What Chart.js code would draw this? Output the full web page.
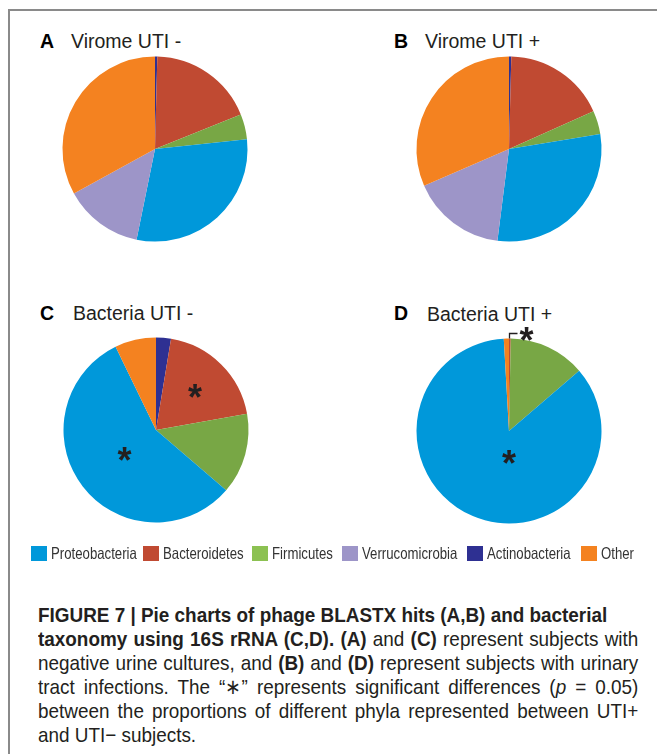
<!DOCTYPE html>
<html>
<head>
<meta charset="utf-8">
<script src="https://cdn.jsdelivr.net/npm/chart.js@4.4.0/dist/chart.umd.min.js"></script>
<style>
  body { margin: 0; background: #fff; width: 657px; height: 754px; overflow: hidden; position: relative;
         font-family: "Liberation Sans", Arial, sans-serif; color: #231f20; }
  #frame { position: absolute; left: 8px; top: 9px; width: 700px; height: 800px;
           border-left: 2px solid #8a8a8a; border-top: 2px solid #8a8a8a; }
  .pie { position: absolute; width: 240px; height: 240px; }
  .lbl { position: absolute; font-size: 19.5px; line-height: 19.5px; white-space: nowrap; }
  .lbl.key { font-weight: bold; color: #000; }
  .sw { position: absolute; top: 546px; width: 16px; height: 15px; }
  .lt { position: absolute; top: 545px; font-size: 16.5px; line-height: 16px; white-space: nowrap;
        transform: scaleX(0.8); transform-origin: 0 0; color: #333; }
  #caption { position: absolute; left: 38px; top: 603px; font-size: 21px; line-height: 24px; }
  #caption div { white-space: nowrap; width: 667px; transform: scaleX(0.9); transform-origin: 0 0; }
  #caption .j { text-align: justify; text-align-last: justify; }
</style>
</head>
<body>
<div id="frame"></div>

<div class="lbl key" style="left:40px; top:31.5px">A</div>
<div class="lbl" style="left:71px; top:31.5px">Virome UTI -</div>
<div class="lbl key" style="left:394px; top:31.5px">B</div>
<div class="lbl" style="left:425px; top:31.5px">Virome UTI +</div>
<div class="lbl key" style="left:40px; top:304px">C</div>
<div class="lbl" style="left:73px; top:304px">Bacteria UTI -</div>
<div class="lbl key" style="left:394px; top:304px">D</div>
<div class="lbl" style="left:427px; top:305px">Bacteria UTI +</div>

<canvas id="pieA" class="pie" width="240" height="240" style="left:35px; top:29px"></canvas>
<canvas id="pieB" class="pie" width="240" height="240" style="left:389px; top:29px"></canvas>
<canvas id="pieC" class="pie" width="240" height="240" style="left:36px; top:310px"></canvas>
<canvas id="pieD" class="pie" width="240" height="240" style="left:389px; top:311px"></canvas>

<div id="caption">
  <div><b>FIGURE 7 | Pie charts of phage BLASTX hits (A,B) and bacterial</b></div>
  <div class="j"><b>taxonomy using 16S rRNA (C,D). (A)</b> and <b>(C)</b> represent subjects with</div>
  <div class="j">negative urine cultures, and <b>(B)</b> and <b>(D)</b> represent subjects with urinary</div>
  <div class="j">tract infections. The “∗” represents significant differences (<i>p</i> = 0.05)</div>
  <div class="j">between the proportions of different phyla represented between UTI+</div>
  <div>and UTI− subjects.</div>
</div>

<script>
// slices run clockwise from 12 o'clock in this order
var phyla = ['Actinobacteria', 'Bacteroidetes', 'Firmicutes', 'Proteobacteria', 'Verrucomicrobia', 'Other'];
var legendOrder = ['Proteobacteria', 'Bacteroidetes', 'Firmicutes', 'Verrucomicrobia', 'Actinobacteria', 'Other'];

// percent of hits per phylum
var viromeNeg = [0.4, 18.5, 4.4, 29.9, 13.8, 33.0];
var viromePos = [0.4, 17.9, 4.1, 29.6, 16.5, 31.5];
var bacteriaNeg = [2.6, 19.6, 14.1, 56.5, 0, 7.2];
var bacteriaPos = [0, 0.3, 13.4, 85.4, 0, 0.9];

var colors = {
    Proteobacteria: '#0098da',
    Bacteroidetes: '#c04a32',
    Firmicutes: '#78a745',
    Verrucomicrobia: '#9d95c8',
    Actinobacteria: '#2e3092',
    Other: '#f48220'
};

// asterisks for significant differences
var starPlugin = {
    id: 'stars',
    afterDatasetsDraw: function (chart, args, opts) {
        var marks = opts.marks || [];
        var ctx = chart.ctx;
        var arcs = chart.getDatasetMeta(0).data;
        ctx.save();
        ctx.fillStyle = '#231f20';
        ctx.strokeStyle = '#231f20';
        ctx.font = 'bold 36px "Liberation Sans", Arial, sans-serif';
        ctx.textAlign = 'center';
        ctx.textBaseline = 'alphabetic';
        var tm = ctx.measureText('*');
        var shift = (tm.actualBoundingBoxAscent - tm.actualBoundingBoxDescent) / 2;
        marks.forEach(function (m) {
            var arc = arcs[chart.data.labels.indexOf(m.label)];
            var p = arc.getProps(['x', 'y', 'startAngle', 'endAngle', 'outerRadius']);
            var sx, sy;
            if (m.bracket) {
                var bx = p.x + 0.5, by = p.y - p.outerRadius;
                ctx.lineWidth = 1.3;
                ctx.beginPath();
                ctx.moveTo(bx, by);
                ctx.lineTo(bx, by - 5);
                ctx.lineTo(bx + 8, by - 5);
                ctx.stroke();
                sx = bx + 17;
                sy = by - 5;
            } else {
                var a = m.angle != null ? (m.angle - 90) * Math.PI / 180 : (p.startAngle + p.endAngle) / 2;
                sx = p.x + Math.cos(a) * p.outerRadius * m.r;
                sy = p.y + Math.sin(a) * p.outerRadius * m.r;
            }
            ctx.fillText('*', sx, sy + shift);
        });
        ctx.restore();
    }
};

function drawPie(id, values, marks) {
    new Chart(document.getElementById(id), {
        type: 'pie',
        data: {
            labels: phyla,
            datasets: [{
                data: values,
                backgroundColor: phyla.map(function (p) { return colors[p]; }),
                borderWidth: 0,
                hoverOffset: 0
            }]
        },
        options: {
            responsive: false,
            animation: false,
            events: [],
            layout: { padding: 27.5 },
            plugins: {
                legend: { display: false },
                tooltip: { enabled: false },
                stars: { marks: marks || [] }
            }
        },
        plugins: [starPlugin]
    });
}

drawPie('pieA', viromeNeg);
drawPie('pieB', viromePos);
drawPie('pieC', bacteriaNeg, [
    { label: 'Bacteroidetes', r: 0.6 },
    { label: 'Proteobacteria', r: 0.43 }
]);
drawPie('pieD', bacteriaPos, [
    { label: 'Proteobacteria', r: 0.28, angle: 180 },
    { label: 'Bacteroidetes', bracket: true }
]);

// shared legend under the four pies
var legendX = [31, 143, 252, 342, 467, 581];
legendOrder.forEach(function (name, i) {
    var sw = document.createElement('div');
    sw.className = 'sw';
    sw.style.left = legendX[i] + 'px';
    sw.style.background = name === 'Firmicutes' ? '#8cc152' : colors[name];
    document.body.appendChild(sw);
    var t = document.createElement('div');
    t.className = 'lt';
    t.style.left = (legendX[i] + 20) + 'px';
    t.textContent = name;
    document.body.appendChild(t);
});
</script>
</body>
</html>
